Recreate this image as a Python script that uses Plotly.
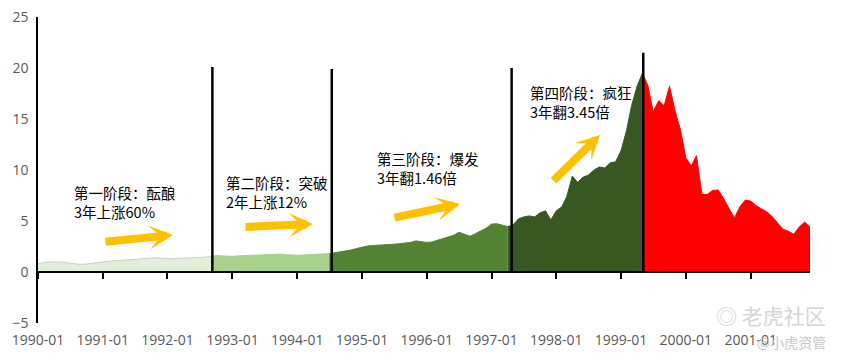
import pandas as pd
import plotly.graph_objects as go

# ---------------- data ----------------
months = pd.date_range("1990-01-01", periods=144, freq="MS")

values = [
    # 1990
    0.80, 0.90, 1.00, 1.00, 1.00, 0.95, 0.85, 0.80, 0.75, 0.78, 0.85, 0.92,
    # 1991
    1.00, 1.05, 1.10, 1.12, 1.15, 1.20, 1.22, 1.25, 1.30, 1.35, 1.40, 1.35,
    # 1992
    1.30, 1.30, 1.33, 1.35, 1.35, 1.38, 1.40, 1.45, 1.55, 1.62, 1.58, 1.55,
    # 1993
    1.54, 1.58, 1.60, 1.64, 1.68, 1.70, 1.74, 1.78, 1.80, 1.76, 1.70, 1.66,
    # 1994
    1.64, 1.66, 1.70, 1.72, 1.75, 1.78, 1.80, 1.87, 1.95, 2.05, 2.15, 2.30,
    # 1995
    2.45, 2.55, 2.60, 2.62, 2.65, 2.70, 2.72, 2.78, 2.82, 2.90, 3.05, 3.00,
    # 1996
    2.90, 2.95, 3.10, 3.25, 3.45, 3.60, 3.90, 3.70, 3.50, 3.75, 4.00, 4.30,
    # 1997
    4.70, 4.72, 4.60, 4.45, 4.60, 5.20, 5.40, 5.50, 5.40, 5.80, 6.00, 5.10,
    # 1998
    6.00, 6.40, 7.40, 9.40, 8.80, 9.30, 9.50, 10.00, 10.30, 10.20, 10.70, 10.80,
    # 1999
    11.90, 13.90, 16.30, 18.20, 19.50, 18.30, 15.70, 16.80, 16.30, 18.20, 15.80, 14.00,
    # 2000
    11.20, 10.40, 11.40, 7.60, 7.60, 8.00, 8.05, 7.20, 6.20, 5.30, 6.40, 7.05,
    # 2001
    6.95, 6.50, 6.20, 5.90, 5.45, 4.80, 4.20, 4.00, 3.70, 4.40, 4.90, 4.40,
]

stage_start_idx = [0, 32, 54, 87, 112]
stage_end_idx = [32, 54, 87, 112, 143]

stage_titles = ["第一阶段：酝酿", "第二阶段：突破", "第三阶段：爆发", "第四阶段：疯狂"]
stage_gains = ["3年上涨60%", "2年上涨12%", "3年翻1.46倍", "3年翻3.45倍"]

divider_dates = ["1992-09-10", "1994-07-15", "1997-04-24", "1999-05-06"]
divider_tops = [20.1, 19.9, 20.0, 21.5]

# ---------------- styles ----------------
stage_fill = ["#E2EFDA", "#A9D18E", "#548235", "#385723", "#FF0000"]
stage_line = ["#C9D0C2", "#A9D18E", "#548235", "#385723", "#FF0000"]
ARROW = "#FFC000"
CJK = "Noto Sans CJK SC"
AX_FONT = "Open Sans"

fig = go.Figure()

for s, (a, b) in enumerate(zip(stage_start_idx, stage_end_idx)):
    fig.add_trace(go.Scatter(
        x=months[a:b + 1], y=values[a:b + 1],
        mode="lines", fill="tozeroy",
        line=dict(color=stage_line[s], width=1),
        fillcolor=stage_fill[s],
        hoverinfo="skip", showlegend=False,
    ))

for d, top in zip(divider_dates, divider_tops):
    fig.add_trace(go.Scatter(
        x=[d, d], y=[0, top], xaxis="x2",
        mode="lines", line=dict(color="black", width=2.5),
        hoverinfo="skip", showlegend=False,
    ))

# text annotations (paper coordinates)
text_pos = [(0.044, 0.394), (0.241, 0.427), (0.437, 0.507), (0.635, 0.721)]
for (tx, ty), t1, t2 in zip(text_pos, stage_titles, stage_gains):
    fig.add_annotation(
        x=tx, y=ty, xref="paper", yref="paper",
        text=f"{t1}<br>{t2}", showarrow=False, align="left",
        xanchor="left", yanchor="middle",
        font=dict(family=CJK, size=14.5, color="black"),
    )

# arrows: (tip x, tip y) in paper, (ax, ay) tail offset in px
arrows = [((0.1749, 0.2876), (-69, 7)),
          ((0.3562, 0.3235), (-69, 3)),
          ((0.5466, 0.3889), (-67, 14)),
          ((0.7280, 0.6144), (-48, 47))]
for (hx, hy), (ax, ay) in arrows:
    fig.add_annotation(
        x=hx, y=hy, xref="paper", yref="paper", text="",
        showarrow=True, ax=ax, ay=ay, arrowhead=3, arrowsize=0.5,
        arrowwidth=8, arrowcolor=ARROW, standoff=0, startstandoff=0,
    )

# watermark
fig.add_annotation(x=1.023, y=0.026, xref="paper", yref="paper",
                   text="◎ 老虎社区", showarrow=False,
                   xanchor="right", yanchor="middle",
                   font=dict(family=CJK, size=21, color="#D5D5D5"))
fig.add_annotation(x=1.023, y=-0.062, xref="paper", yref="paper",
                   text="@小虎资管", showarrow=False,
                   xanchor="right", yanchor="middle",
                   font=dict(family=CJK, size=14, color="#C8C8C8"))

# the page body adds an 8px margin, so the figure is sized to fit inside it
fig.update_layout(
    width=828, height=346,
    margin=dict(l=30, r=26, t=9, b=31, autoexpand=False),
    plot_bgcolor="white", paper_bgcolor="white",
    showlegend=False,
    xaxis=dict(
        type="date", range=["1990-01-01", "2001-12-01"],
        tick0="1990-01-01", dtick="M12", tickformat="%Y-%m",
        showgrid=False, zeroline=False, showline=False, ticks="",
        automargin=False, ticklabelstandoff=7, ticklabeloverflow="allow",
        tickfont=dict(family=AX_FONT, size=14, color="#595959"),
    ),
    xaxis2=dict(
        type="date", overlaying="x", matches="x", anchor="free",
        position=5 / 30, side="bottom",
        tick0="1990-01-01", dtick="M12",
        showgrid=False, zeroline=False, showline=True,
        linecolor="black", linewidth=1.5,
        ticks="outside", ticklen=6, tickwidth=1.5, tickcolor="black",
        showticklabels=False, automargin=False,
    ),
    yaxis=dict(
        range=[-5, 25], dtick=5, tick0=0,
        showgrid=False, zeroline=False, showline=True,
        linecolor="black", linewidth=1.5, ticks="",
        automargin=False, ticklabelstandoff=5, ticklabeloverflow="allow",
        tickfont=dict(family=AX_FONT, size=14, color="#595959"),
    ),
)

fig.write_html("out.html")
